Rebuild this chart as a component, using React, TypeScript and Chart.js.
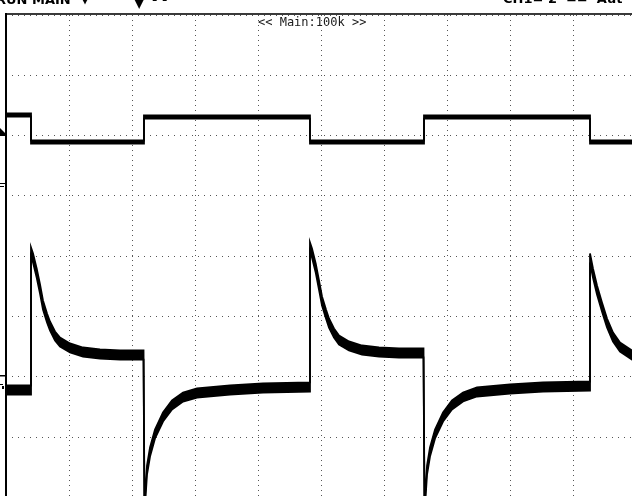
import { useEffect, useRef } from "react";
import { Chart, registerables } from "chart.js";

Chart.register(...registerables);

// Horizontal axis: time in screen divisions (10 across). Vertical axis: divisions from centre (±4).
const ch1Time = [0, 0.397, 0.397, 2.19, 2.19, 4.825, 4.825, 6.635, 6.635, 9.27, 9.27, 10.1];
const ch1Level = [2.342, 2.342, 1.894, 1.894, 2.308, 2.308, 1.894, 1.894, 2.308, 2.308, 1.894, 1.894];

const ch2Time = [
  0, 0.397, 0.397, 0.429, 0.487, 0.54, 0.587, 0.651, 0.698, 0.778, 0.857, 1.016, 1.222, 1.492, 1.81, 2.183,
  2.198, 2.238, 2.286, 2.365, 2.492, 2.635, 2.81, 3.032, 3.556, 4.079, 4.825,
  4.825, 4.857, 4.916, 4.968, 5.016, 5.079, 5.127, 5.206, 5.286, 5.444, 5.651, 5.921, 6.238, 6.627,
  6.643, 6.683, 6.73, 6.81, 6.937, 7.079, 7.254, 7.476, 8.0, 8.524, 9.27,
  9.27, 9.317, 9.381, 9.46, 9.54, 9.635, 9.746, 9.937, 10.1,
];
const ch2Level = [
  -2.219, -2.219, 0.07, -0.03, -0.279, -0.544, -0.809, -1.025, -1.157, -1.323, -1.423, -1.522, -1.589, -1.622, -1.639, -1.639,
  -4.2, -3.546, -3.247, -2.948, -2.667, -2.468, -2.335, -2.269, -2.219, -2.186, -2.169,
  0.153, 0.053, -0.196, -0.478, -0.743, -0.959, -1.108, -1.274, -1.39, -1.489, -1.556, -1.589, -1.605, -1.605,
  -4.2, -3.546, -3.247, -2.948, -2.667, -2.468, -2.335, -2.252, -2.202, -2.169, -2.153,
  -0.03, -0.279, -0.56, -0.842, -1.108, -1.34, -1.506, -1.639, -1.655,
];

// Half-height of each channel's noise band, in divisions
const ch1Noise = 0.025;
const ch2Noise = 0.075;

const centreLabel = "<< Main:100k >>";

function band(time: number[], level: number[], noise: number, sign: number) {
  return time.map((t, i) => ({ x: t, y: level[i] + sign * noise }));
}

const traceDataset = (data: { x: number; y: number }[], fill: boolean | string) => ({
  data,
  borderColor: "#000",
  backgroundColor: "#000",
  borderWidth: 1.8,
  pointRadius: 0,
  tension: 0,
  fill,
});

const screenDecor = {
  id: "screenDecor",
  afterDraw(chart: Chart) {
    const ctx = chart.ctx;
    const { left, top } = chart.chartArea;
    ctx.save();
    // frame
    ctx.fillStyle = "#3a3a3a";
    ctx.fillRect(left, top - 2, 640, 2);
    ctx.fillStyle = "#000";
    ctx.fillRect(left - 1, top - 2, 2, 500);

    // channel / trigger markers at the left edge
    ctx.beginPath();
    ctx.moveTo(0, 128);
    ctx.lineTo(5, 133);
    ctx.lineTo(5, 136);
    ctx.lineTo(0, 136);
    ctx.closePath();
    ctx.fill();
    ctx.fillRect(0, 183, 5, 1);
    ctx.fillRect(0, 186, 4, 1);
    ctx.fillRect(0, 375, 5, 1.5);
    ctx.fillRect(0, 384, 3, 1);
    ctx.fillRect(2, 386, 2, 3);

    // status line (mostly above the visible area)
    ctx.font = 'bold 13px "DejaVu Sans"';
    ctx.textBaseline = "alphabetic";
    ctx.textAlign = "left";
    ctx.fillText("RUN MAIN", -4, 4);
    ctx.fillText("▼", 80, 3);
    ctx.font = 'bold 16px "DejaVu Sans"';
    ctx.fillText("▼", 133, 7);
    ctx.font = 'bold 13px "DejaVu Sans"';
    ctx.fillText("- -", 152, 4);
    ctx.fillText("CH1= 2  ==  Aut", 503, 3);

    // centre label
    ctx.font = '12px "DejaVu Sans Mono"';
    ctx.fillStyle = "#1a1a1a";
    ctx.textBaseline = "middle";
    ctx.fillText(centreLabel, 258, 23);
    ctx.restore();
  },
};

export default function App() {
  const canvasRef = useRef<HTMLCanvasElement | null>(null);

  useEffect(() => {
    if (!canvasRef.current) return;
    const chart = new Chart(canvasRef.current, {
      type: "line",
      data: {
        datasets: [
          traceDataset(band(ch1Time, ch1Level, ch1Noise, 1), false),
          traceDataset(band(ch1Time, ch1Level, ch1Noise, -1), "-1"),
          traceDataset(band(ch2Time, ch2Level, ch2Noise, 1), false),
          traceDataset(band(ch2Time, ch2Level, ch2Noise, -1), "-1"),
        ],
      },
      options: {
        responsive: false,
        maintainAspectRatio: false,
        animation: false,
        devicePixelRatio: 1,
        layout: { padding: { left: 6, top: 15, right: 4, bottom: 2.6 } },
        plugins: { legend: { display: false }, tooltip: { enabled: false } },
        scales: {
          x: {
            type: "linear",
            min: 0,
            max: 10,
            ticks: { display: false, stepSize: 1 },
            grid: { color: "#555", lineWidth: 1, drawTicks: false },
            border: { display: false, dash: [1, 4] },
          },
          y: {
            type: "linear",
            min: -4,
            max: 4,
            ticks: { display: false, stepSize: 1 },
            grid: { color: "#555", lineWidth: 1, drawTicks: false },
            border: { display: false, dash: [1, 5] },
          },
        },
      },
      plugins: [screenDecor],
    });
    return () => chart.destroy();
  }, []);

  return (
    <div
      style={{
        position: "fixed",
        left: 0,
        top: 0,
        width: 632,
        height: 496,
        overflow: "hidden",
        background: "#fff",
      }}
    >
      <canvas ref={canvasRef} width={640} height={500} style={{ display: "block" }} />
    </div>
  );
}
